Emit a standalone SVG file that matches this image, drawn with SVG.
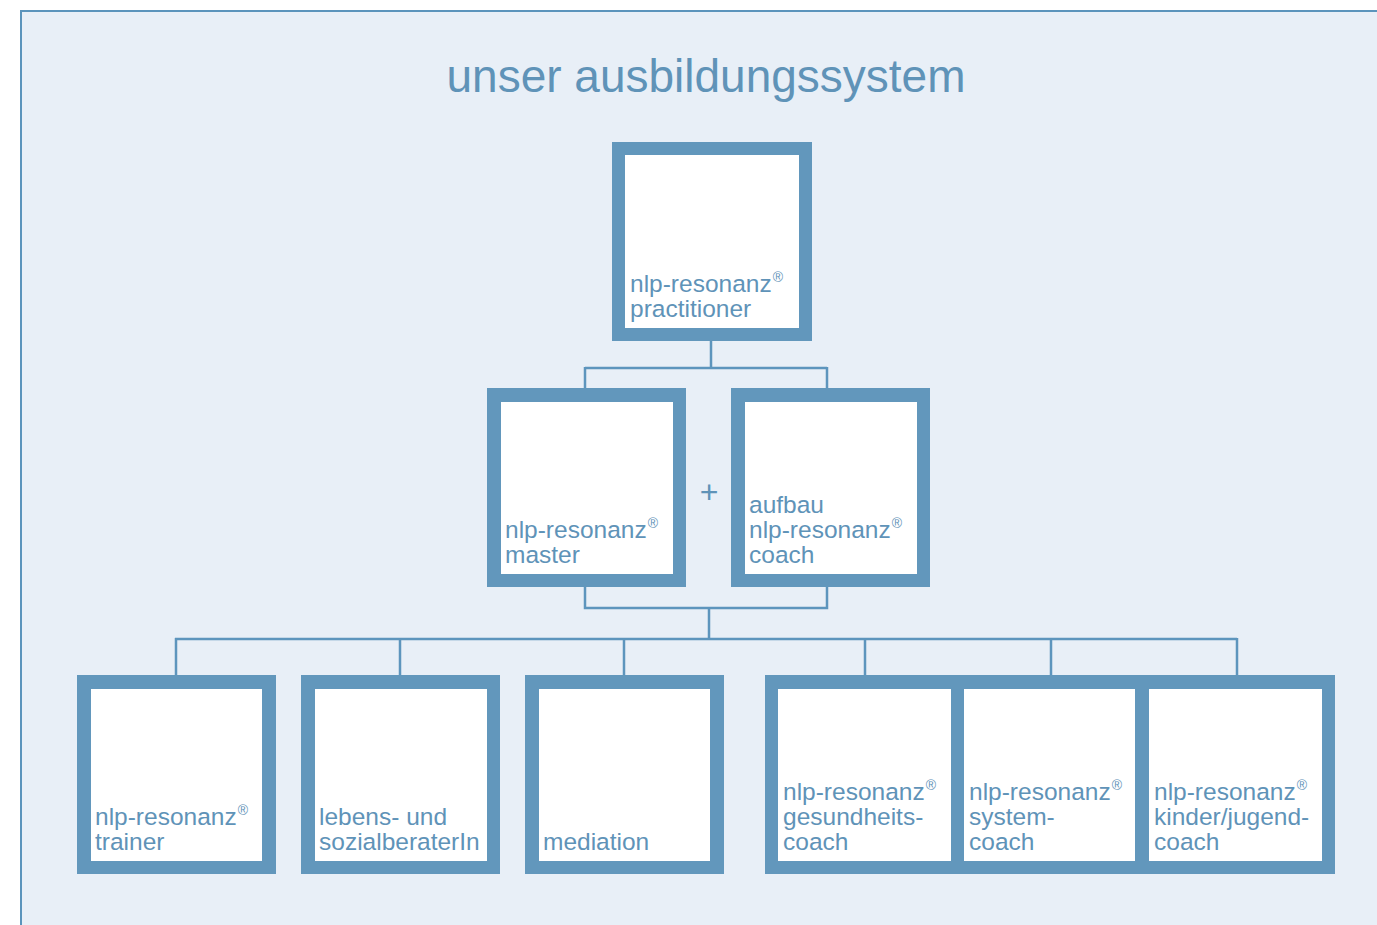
<svg xmlns="http://www.w3.org/2000/svg" width="1377" height="925" viewBox="0 0 1377 925">
<style>
.box{fill:#6297bc}
.in{fill:#ffffff}
.lbl{font-family:"Liberation Sans",Arial,sans-serif;font-size:24.5px;fill:#5f93b8}
.reg{font-size:14px}
.con{fill:none;stroke:#5d95bd;stroke-width:2.5}
</style>
<rect x="0" y="0" width="1377" height="925" fill="#ffffff"/>
<rect x="21" y="11" width="1400" height="1000" fill="#e8eff7" stroke="#5b94bc" stroke-width="2"/>
<text x="706" y="92" text-anchor="middle" font-family="'Liberation Sans',Arial,sans-serif" font-size="46" fill="#5f93b8">unser ausbildungssystem</text>
<g id="connectors">
<path class="con" d="M711 341V368M585 368H827M585 367V388M827 367V388"/>
<path class="con" d="M585 587V608H827V587M709 608V639"/>
<path class="con" d="M175 639H1237M176 638V675M400 638V675M624 638V675M865 638V675M1051 638V675M1237 638V675"/>
</g>
<g id="practitioner">
<rect class="box" x="612" y="142" width="200" height="199"/>
<rect class="in" x="625" y="155" width="174" height="173"/>
<text class="lbl" x="630" y="292">nlp-resonanz<tspan class="reg" dx="1" dy="-10">®</tspan></text>
<text class="lbl" x="630" y="317">practitioner</text>
</g>
<g id="master">
<rect class="box" x="487" y="388" width="199" height="199"/>
<rect class="in" x="501" y="402" width="172" height="172"/>
<text class="lbl" x="505" y="538">nlp-resonanz<tspan class="reg" dx="1" dy="-10">®</tspan></text>
<text class="lbl" x="505" y="563">master</text>
</g>
<text id="plus" x="709" y="503" text-anchor="middle" font-family="'Liberation Sans',Arial,sans-serif" font-size="32" fill="#5f93b8">+</text>
<g id="coach">
<rect class="box" x="731" y="388" width="199" height="199"/>
<rect class="in" x="745" y="402" width="172" height="172"/>
<text class="lbl" x="749" y="513">aufbau</text>
<text class="lbl" x="749" y="538">nlp-resonanz<tspan class="reg" dx="1" dy="-10">®</tspan></text>
<text class="lbl" x="749" y="563">coach</text>
</g>
<g id="trainer">
<rect class="box" x="77" y="675" width="199" height="199"/>
<rect class="in" x="91" y="689" width="171" height="172"/>
<text class="lbl" x="95" y="825">nlp-resonanz<tspan class="reg" dx="1" dy="-10">®</tspan></text>
<text class="lbl" x="95" y="850">trainer</text>
</g>
<g id="sozialberater">
<rect class="box" x="301" y="675" width="199" height="199"/>
<rect class="in" x="315" y="689" width="172" height="172"/>
<text class="lbl" x="319" y="825">lebens- und</text>
<text class="lbl" x="319" y="850">sozialberaterIn</text>
</g>
<g id="mediation">
<rect class="box" x="525" y="675" width="199" height="199"/>
<rect class="in" x="539" y="689" width="171" height="172"/>
<text class="lbl" x="543" y="850">mediation</text>
</g>
<g id="coaches">
<rect class="box" x="765" y="675" width="570" height="199"/>
<g id="gesundheitscoach">
<rect class="in" x="778" y="689" width="173" height="172"/>
<text class="lbl" x="783" y="800">nlp-resonanz<tspan class="reg" dx="1" dy="-10">®</tspan></text>
<text class="lbl" x="783" y="825">gesundheits-</text>
<text class="lbl" x="783" y="850">coach</text>
</g>
<g id="systemcoach">
<rect class="in" x="964" y="689" width="171" height="172"/>
<text class="lbl" x="969" y="800">nlp-resonanz<tspan class="reg" dx="1" dy="-10">®</tspan></text>
<text class="lbl" x="969" y="825">system-</text>
<text class="lbl" x="969" y="850">coach</text>
</g>
<g id="kindercoach">
<rect class="in" x="1149" y="689" width="173" height="172"/>
<text class="lbl" x="1154" y="800">nlp-resonanz<tspan class="reg" dx="1" dy="-10">®</tspan></text>
<text class="lbl" x="1154" y="825">kinder/jugend-</text>
<text class="lbl" x="1154" y="850">coach</text>
</g>
</g>
</svg>
